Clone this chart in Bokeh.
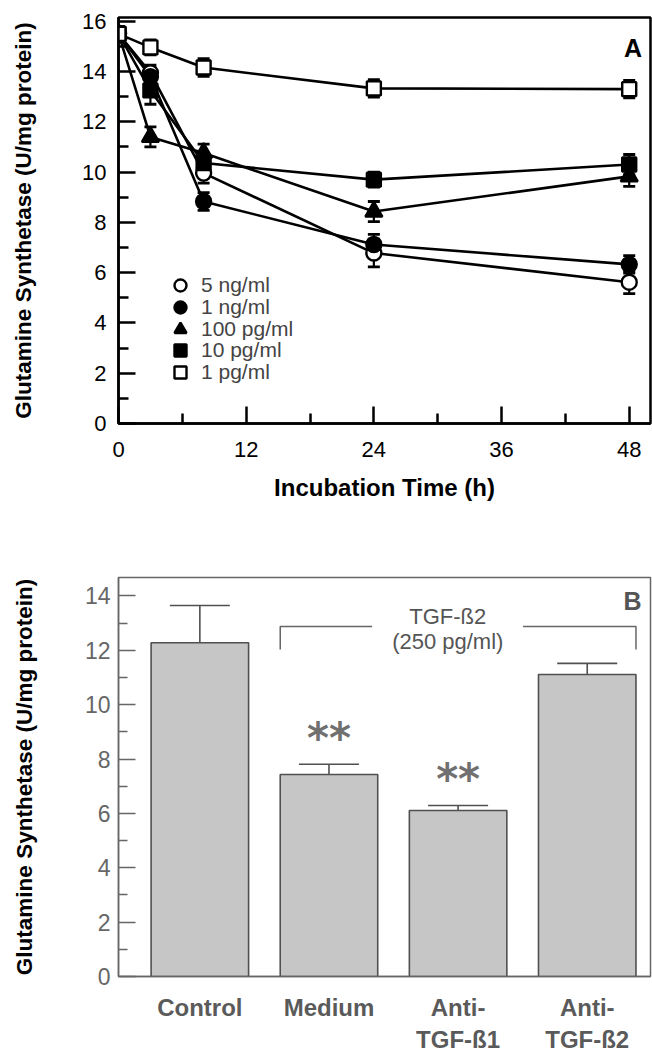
from bokeh.plotting import figure
from bokeh.models import Range1d, FixedTicker, Legend, LegendItem, Label
from bokeh.layouts import column
from bokeh.embed import file_html
from bokeh.resources import INLINE
from bokeh.core.properties import value

# ---------------- data: panel A ----------------
times = [0, 3, 8, 24, 48]
gs_5ng = [15.5, 13.95, 9.96, 6.78, 5.62]
gs_5ng_err = [0.3, 0.3, 0.4, 0.55, 0.45]
gs_1ng = [15.5, 13.8, 8.83, 7.12, 6.33]
gs_1ng_err = [0.3, 0.3, 0.35, 0.4, 0.35]
gs_100pg = [15.5, 11.4, 10.76, 8.43, 9.83]
gs_100pg_err = [0.3, 0.4, 0.35, 0.4, 0.4]
gs_10pg = [15.5, 13.25, 10.36, 9.7, 10.3]
gs_10pg_err = [0.3, 0.55, 0.3, 0.3, 0.4]
gs_1pg = [15.5, 14.96, 14.16, 13.33, 13.3]
gs_1pg_err = [0.3, 0.3, 0.35, 0.35, 0.35]
series_labels = ["5 ng/ml", "1 ng/ml", "100 pg/ml", "10 pg/ml", "1 pg/ml"]
time_ticks = [0, 12, 24, 36, 48]
time_minor = [6, 18, 30, 42]
gs_ticks_a = [0, 2, 4, 6, 8, 10, 12, 14, 16]

# ---------------- data: panel B ----------------
groups = ["Control", "Medium", "Anti-\nTGF-ß1", "Anti-\nTGF-ß2"]
bar_pos = [1, 2, 3, 4]
bar_vals = [12.28, 7.43, 6.11, 11.11]
bar_err = [1.37, 0.38, 0.18, 0.41]
signif = ["", "**", "**", ""]
gs_ticks_b = [0, 2, 4, 6, 8, 10, 12, 14]

FONT = "Liberation Sans"
YLABEL = "Glutamine Synthetase (U/mg protein)"

# ================= Panel A =================
p1 = figure(width=652, height=528, x_range=Range1d(0, 50), y_range=Range1d(0, 16.15),
            output_backend="svg", toolbar_location=None,
            min_border_left=118, min_border_right=2, min_border_top=17, min_border_bottom=105)
p1.xgrid.visible = False
p1.ygrid.visible = False
p1.outline_line_color = "black"
p1.outline_line_width = 2.5
p1.outline_line_alpha = 1

for ax in (p1.xaxis[0], p1.yaxis[0]):
    ax.axis_line_width = 2.5
    ax.axis_line_color = "black"
    ax.major_tick_in = 17
    ax.major_tick_out = 0
    ax.minor_tick_in = 10
    ax.minor_tick_out = 0
    ax.major_tick_line_width = 2.5
    ax.minor_tick_line_width = 2.5
    ax.major_label_text_font = FONT
    ax.major_label_text_font_size = "22px"
    ax.major_label_text_color = "black"
    ax.axis_label_text_font = FONT
    ax.axis_label_text_font_style = "bold"
    ax.axis_label_text_color = "black"

p1.xaxis.ticker = FixedTicker(ticks=time_ticks, minor_ticks=time_minor)
p1.yaxis.ticker = FixedTicker(ticks=gs_ticks_a, minor_ticks=[t + 1 for t in gs_ticks_a[:-1]])
p1.xaxis.axis_label = "Incubation Time (h)"
p1.xaxis.axis_label_text_font_size = "24px"
p1.xaxis.major_label_standoff = 18
p1.xaxis.axis_label_standoff = 14
p1.yaxis.axis_label = YLABEL
p1.yaxis.axis_label_text_font_size = "22.5px"
p1.yaxis.major_label_standoff = 12
p1.yaxis.axis_label_standoff = 43

series = [
    (gs_5ng, gs_5ng_err, "circle", "white"),
    (gs_1ng, gs_1ng_err, "circle", "black"),
    (gs_100pg, gs_100pg_err, "triangle", "black"),
    (gs_10pg, gs_10pg_err, "square", "black"),
    (gs_1pg, gs_1pg_err, "square", "white"),
]
for vals, errs, _, _ in series:
    p1.line(times, vals, line_color="black", line_width=2.6)
for vals, errs, _, _ in series:
    lo = [v - e for v, e in zip(vals, errs)]
    hi = [v + e for v, e in zip(vals, errs)]
    p1.segment(x0=times, y0=lo, x1=times, y1=hi, line_color="black", line_width=2.2)
    p1.scatter(times, lo, marker="dash", size=12, line_color="black", line_width=2.8)
    p1.scatter(times, hi, marker="dash", size=12, line_color="black", line_width=2.8)

# one single-entry legend per series, stacked with a 22 px pitch
legend_offsets = [123, 101, 79, 58, 36]
for (vals, errs, mk, fill), lab, off in zip(series, series_labels, legend_offsets):
    size = 17 if mk == "triangle" else (15 if mk == "circle" else 14)
    r = p1.scatter(times, vals, marker=mk, size=size, fill_color=fill,
                   line_color="black", line_width=2.4)
    leg = Legend(items=[LegendItem(label=lab, renderers=[r])], location=(47, off),
                 glyph_width=30, glyph_height=30, label_height=20, padding=0, margin=0,
                 label_standoff=6, label_text_font=FONT, label_text_font_size="21px",
                 border_line_alpha=0, background_fill_alpha=0)
    p1.add_layout(leg)

p1.add_layout(Label(x=p1.x_range.end - 0.8, y=p1.y_range.end - 1.2, text="A",
                    text_font=FONT, text_font_style="bold", text_font_size="25px",
                    text_align="right", text_baseline="middle", text_color="black"))

# ================= Panel B =================
GRAY = "#666666"
p2 = figure(width=652, height=527, x_range=Range1d(0.37, 4.49), y_range=Range1d(0, 14.68),
            output_backend="svg", toolbar_location=None,
            min_border_left=116, min_border_right=2, min_border_top=49, min_border_bottom=68)
p2.xgrid.visible = False
p2.ygrid.visible = False
p2.outline_line_color = GRAY
p2.outline_line_width = 1.5
p2.outline_line_alpha = 1

bw = 0.755
p2.vbar(x=bar_pos, top=bar_vals, width=bw, fill_color="#c6c6c6",
        line_color="#505050", line_width=1.6)
err_top = [v + e for v, e in zip(bar_vals, bar_err)]
p2.segment(x0=bar_pos, y0=bar_vals, x1=bar_pos, y1=err_top, line_color="#505050", line_width=1.6)
p2.scatter(bar_pos, err_top, marker="dash", size=60, line_color="#505050", line_width=1.6)

ast_y = [t + 0.95 for t in err_top]
p2.text(x=bar_pos, y=ast_y, text=signif, text_font=value("DejaVu Sans"),
        text_font_style="bold", text_font_size="42px", text_align="center",
        text_baseline="middle", text_color="#707070")

# bracket over treated groups
bl = bar_pos[1] - bw / 2
br = bar_pos[3] + bw / 2
p2.line([bl, bl, 2.334], [12.03, 12.88, 12.88], line_color=GRAY, line_width=1.5)
p2.line([3.503, br, br], [12.88, 12.88, 12.03], line_color=GRAY, line_width=1.5)
p2.add_layout(Label(x=2.92, y=13.26, text="TGF-ß2", text_font=FONT, text_font_size="22px",
                    text_align="center", text_baseline="middle", text_color="#555555"))
p2.add_layout(Label(x=2.92, y=12.32, text="(250 pg/ml)", text_font=FONT, text_font_size="22px",
                    text_align="center", text_baseline="middle", text_color="#555555"))
p2.add_layout(Label(x=p2.x_range.end - 0.07, y=p2.y_range.end - 0.85, text="B",
                    text_font=FONT, text_font_style="bold", text_font_size="25px",
                    text_align="right", text_baseline="middle", text_color="#555555"))

ya = p2.yaxis[0]
ya.ticker = FixedTicker(ticks=gs_ticks_b, minor_ticks=[t + 1 for t in gs_ticks_b[:-1]])
ya.axis_line_color = GRAY
ya.axis_line_width = 1.5
ya.major_tick_in = 17
ya.major_tick_out = 0
ya.minor_tick_in = 9
ya.minor_tick_out = 0
ya.major_tick_line_color = GRAY
ya.minor_tick_line_color = GRAY
ya.major_tick_line_width = 1.5
ya.minor_tick_line_width = 1.5
ya.major_label_text_font = FONT
ya.major_label_text_font_size = "23px"
ya.major_label_text_color = GRAY
ya.major_label_standoff = 8
ya.axis_label = YLABEL
ya.axis_label_text_font = FONT
ya.axis_label_text_font_style = "bold"
ya.axis_label_text_font_size = "22.5px"
ya.axis_label_text_color = "black"
ya.axis_label_standoff = 45

xa = p2.xaxis[0]
xa.ticker = FixedTicker(ticks=bar_pos)
xa.major_label_overrides = {pos: g for pos, g in zip(bar_pos, groups)}
xa.major_tick_in = 0
xa.major_tick_out = 0
xa.minor_tick_in = 0
xa.minor_tick_out = 0
xa.axis_line_color = GRAY
xa.axis_line_width = 1.5
xa.major_label_text_font = FONT
xa.major_label_text_font_style = "bold"
xa.major_label_text_font_size = "24px"
xa.major_label_text_color = "#5a5a5a"
xa.major_label_standoff = 17

layout = column(p1, p2, spacing=0)
open("out.html", "w").write(file_html(layout, INLINE))
